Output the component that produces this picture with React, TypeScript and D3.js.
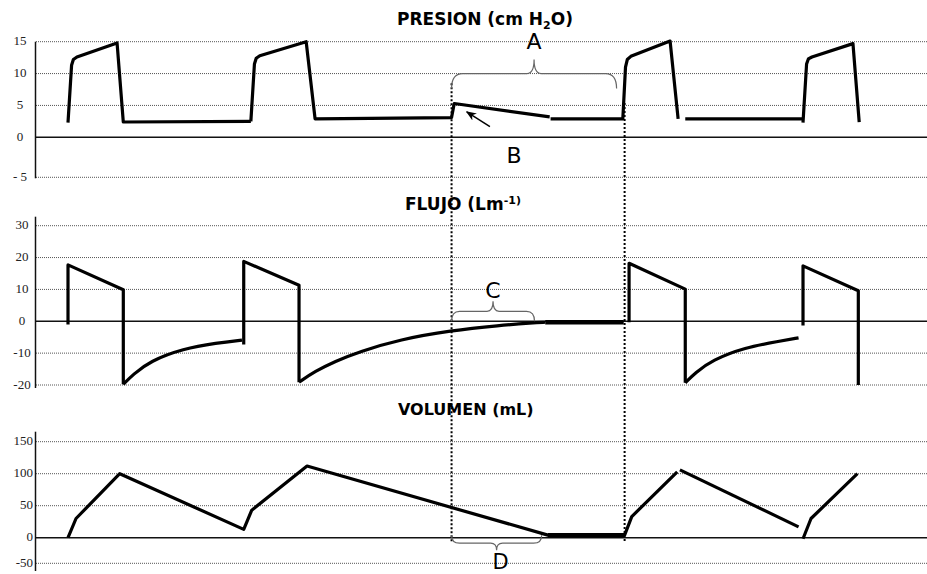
import * as d3 from 'd3';

type Pt = [number, number];

// time in seconds along the sweep
const T_DOMAIN = [0, 10];

const PRESSURE_TICKS = [15, 10, 5, -5];
const PRESSURE_LABELS = ['15', '10', '5', '0', '- 5'];
const PRESSURE_LABEL_VALUES = [15, 10, 5, 0, -5];
const FLOW_TICKS = [30, 20, 10, -10, -20];
const FLOW_LABELS = ['30', '20', '10', '0', '-10', '-20'];
const FLOW_LABEL_VALUES = [30, 20, 10, 0, -10, -20];
const VOLUME_TICKS = [150, 100, 50, -50];
const VOLUME_LABELS = ['150', '100', '50', '0', '-50'];
const VOLUME_LABEL_VALUES = [150, 100, 50, 0, -50];

const pressureSegments: Pt[][] = [
  [[0.37, 2.3], [0.41, 11.3], [0.43, 12.2], [0.47, 12.6], [0.92, 14.8], [0.99, 2.4], [2.42, 2.5]],
  [[2.42, 2.5], [2.46, 11.5], [2.48, 12.4], [2.52, 12.8], [3.04, 15.0], [3.14, 2.9], [4.67, 3.1], [4.7, 5.3], [5.77, 3.2]],
  [[5.78, 2.9], [6.59, 2.9], [6.62, 11.0], [6.64, 12.2], [6.68, 12.7], [7.12, 15.1], [7.21, 2.9]],
  [[7.29, 2.9], [8.61, 2.9]],
  [[8.61, 2.3], [8.65, 11.5], [8.67, 12.3], [8.71, 12.6], [9.17, 14.7], [9.24, 2.4]],
];

const flowSegments: Pt[][] = [
  [[0.37, -1.0], [0.37, 17.7], [0.99, 9.9], [0.99, -19.8]],
  [[2.34, -7.3], [2.34, 18.8], [2.96, 11.3], [2.96, -19.1]],
  [[6.66, -0.3], [6.66, 18.2], [7.29, 10.1], [7.29, -19.3]],
  [[8.61, -1.3], [8.61, 17.4], [9.23, 9.6], [9.23, -20]],
];

const flowDecays: Pt[][] = [
  [[0.99, -19.8], [1.1, -16.7], [1.29, -12.5], [1.66, -8.6], [2.04, -6.8], [2.32, -5.9]],
  [[2.96, -19.1], [3.14, -15.7], [3.36, -12.6], [3.64, -9.5], [4.09, -5.7], [4.66, -2.9], [5.21, -1.3], [5.58, -0.5], [5.72, -0.3]],
  [[7.29, -19.3], [7.4, -16.2], [7.59, -12.2], [7.96, -8.2], [8.34, -6.3], [8.56, -5.2]],
];

const flowPause: Pt[] = [[5.72, -0.3], [6.6, -0.3]];

const volumeSegments: Pt[][] = [
  [[0.37, 0], [0.46, 30], [0.95, 100], [2.34, 13], [2.43, 43], [3.05, 112], [5.75, 4], [6.61, 4], [6.69, 33], [7.2, 103]],
  [[7.23, 106], [8.56, 17]],
  [[8.61, -2], [8.7, 30], [9.22, 100]],
];

const volumePause: Pt[] = [[5.75, 4], [6.61, 4]];

// annotations (time / value units)
const PAUSE_START = 4.67;
const PAUSE_END = 6.61;
const braceA = { from: 4.67, to: 6.52, value: 10 };
const braceC = { from: 4.67, to: 5.6, value: 0 };
const braceD = { from: 4.67, to: 5.68, value: 4 };
const arrowB = { from: [5.1, 1.66] as Pt, to: [4.84, 4.0] as Pt };
const labelB = [5.37, -3.2] as Pt;

const W = 927;
const H = 574;

const x = d3.scaleLinear().domain(T_DOMAIN).range([35, 927]);
const yP = d3.scaleLinear().domain([-5, 0, 15]).range([177.3, 137.3, 41.7]);
const yF = d3.scaleLinear().domain([-20, 30]).range([385, 225.7]);
const yV = d3.scaleLinear().domain([-50, 0, 150]).range([563.3, 537.7, 441.7]);

const GRID_X0 = 36;

const bracePath = (x0: number, x1: number, yEnd: number, yBar: number, yTip: number, r: number, rt: number) => {
  const xm = (x0 + x1) / 2;
  return `M${x0},${yEnd} Q${x0},${yBar} ${x0 + r},${yBar} L${xm - rt},${yBar} Q${xm},${yBar} ${xm},${yTip} ` +
    `Q${xm},${yBar} ${xm + rt},${yBar} L${x1 - r},${yBar} Q${x1},${yBar} ${x1},${yEnd}`;
};

const Panel = ({ y, ticks, labelValues, labels, axisTop, axisBottom, labelX, anchor }: {
  y: d3.ScaleLinear<number, number>;
  ticks: number[];
  labelValues: number[];
  labels: string[];
  axisTop: number;
  axisBottom: number;
  labelX: number;
  anchor: 'start' | 'middle' | 'end';
}) => (
  <g>
    {ticks.map((t) => (
      <line key={t} x1={GRID_X0} x2={W} y1={y(t)} y2={y(t)} stroke="#555" strokeWidth={1} strokeDasharray="1,1" />
    ))}
    <line x1={GRID_X0} x2={W} y1={y(0)} y2={y(0)} stroke="#111" strokeWidth={1.5} />
    <line x1={35.5} x2={35.5} y1={axisTop} y2={axisBottom} stroke="#111" strokeWidth={1.5} />
    {labels.map((l, i) => (
      <text key={l} x={labelX} y={y(labelValues[i]) + 3.5} textAnchor={anchor}
        fontFamily="'Liberation Serif', 'Times New Roman', serif" fontSize={13} fill="#222">{l}</text>
    ))}
  </g>
);

export default function App() {
  const lineP = d3.line<Pt>().x((d) => x(d[0])).y((d) => yP(d[1]));
  const lineF = d3.line<Pt>().x((d) => x(d[0])).y((d) => yF(d[1]));
  const curveF = d3.line<Pt>().x((d) => x(d[0])).y((d) => yF(d[1])).curve(d3.curveBasis);
  const lineV = d3.line<Pt>().x((d) => x(d[0])).y((d) => yV(d[1]));

  const trace = { fill: 'none', stroke: '#000', strokeWidth: 3.2, strokeLinejoin: 'round' as const };
  const titleFont = "'DejaVu Sans', Verdana, sans-serif";
  const letterFont = "'DejaVu Sans', Verdana, sans-serif";

  const aX0 = x(braceA.from), aX1 = x(braceA.to), aBar = yP(braceA.value);
  const cX0 = x(braceC.from), cX1 = x(braceC.to), cEnd = yF(braceC.value);
  const dX0 = x(braceD.from), dX1 = x(braceD.to), dEnd = yV(braceD.value);

  return (
    <svg width={W} height={H} style={{ position: 'absolute', left: 0, top: 0, background: '#fff' }}
      role="img" aria-label="Presion, flujo y volumen en ventilacion mecanica">
      <defs>
        <marker id="arrow" viewBox="0 0 10 10" refX={9} refY={5} markerWidth={7} markerHeight={7} orient="auto">
          <path d="M0,1 L10,5 L0,9 L3,5 z" fill="#000" />
        </marker>
      </defs>
      <rect width={W} height={H} fill="#fff" />

      <Panel y={yP} ticks={PRESSURE_TICKS} labelValues={PRESSURE_LABEL_VALUES} labels={PRESSURE_LABELS}
        axisTop={41.7} axisBottom={178.3} labelX={20} anchor="middle" />
      <Panel y={yF} ticks={FLOW_TICKS} labelValues={FLOW_LABEL_VALUES} labels={FLOW_LABELS}
        axisTop={216.7} axisBottom={388} labelX={22} anchor="middle" />
      <Panel y={yV} ticks={VOLUME_TICKS} labelValues={VOLUME_LABEL_VALUES} labels={VOLUME_LABELS}
        axisTop={431.7} axisBottom={571} labelX={33} anchor="end" />

      {/* titles */}
      <text x={397} y={25} fontFamily={titleFont} fontWeight="bold" fontSize={17} fill="#000">
        PRESION (cm H<tspan fontSize={11} dy={4}>2</tspan><tspan dy={-4}>O)</tspan>
      </text>
      <text x={405} y={210} fontFamily={titleFont} fontWeight="bold" fontSize={17} fill="#000">
        FLUJO (Lm<tspan fontSize={11} dy={-6}>-1)</tspan>
      </text>
      <text x={398} y={415} fontFamily={titleFont} fontWeight="bold" fontSize={16} fill="#000">
        VOLUMEN (mL)
      </text>

      {/* pause markers */}
      <line x1={x(PAUSE_START)} x2={x(PAUSE_START)} y1={yP(8.5)} y2={yV(-8)} stroke="#000" strokeWidth={2} strokeDasharray="2,2" />
      <line x1={x(PAUSE_END)} x2={x(PAUSE_END)} y1={yP(5.4)} y2={yV(-8)} stroke="#000" strokeWidth={2} strokeDasharray="2,2" />

      {/* traces */}
      {pressureSegments.map((s, i) => <path key={`p${i}`} d={lineP(s) ?? ''} {...trace} />)}
      {flowSegments.map((s, i) => <path key={`f${i}`} d={lineF(s) ?? ''} {...trace} />)}
      {flowDecays.map((s, i) => <path key={`fc${i}`} d={curveF(s) ?? ''} {...trace} />)}
      <path d={lineF(flowPause) ?? ''} {...trace} strokeWidth={4.5} />
      {volumeSegments.map((s, i) => <path key={`v${i}`} d={lineV(s) ?? ''} {...trace} />)}
      <path d={lineV(volumePause) ?? ''} {...trace} strokeWidth={4.5} />

      {/* braces and letters */}
      <path d={bracePath(aX0, aX1, aBar + 15, aBar, aBar - 14, 11, 7)} fill="none" stroke="#666" strokeWidth={1.2} />
      <text x={(aX0 + aX1) / 2} y={aBar - 25} textAnchor="middle" fontFamily={letterFont} fontSize={22} fill="#000">A</text>

      <path d={bracePath(cX0, cX1, cEnd, cEnd - 10, cEnd - 20, 8, 6)} fill="none" stroke="#666" strokeWidth={1.2} />
      <text x={(cX0 + cX1) / 2} y={cEnd - 23.5} textAnchor="middle" fontFamily={letterFont} fontSize={22} fill="#000">C</text>

      <path d={bracePath(dX0, dX1, dEnd, dEnd + 8, dEnd + 15, 8, 6)} fill="none" stroke="#666" strokeWidth={1.2} />
      <text x={(dX0 + dX1) / 2 + 4} y={dEnd + 34} textAnchor="middle" fontFamily={letterFont} fontSize={21} fill="#000">D</text>

      <line x1={x(arrowB.from[0])} y1={yP(arrowB.from[1])} x2={x(arrowB.to[0])} y2={yP(arrowB.to[1])}
        stroke="#000" strokeWidth={1.5} markerEnd="url(#arrow)" />
      <text x={x(labelB[0])} y={yP(labelB[1])} textAnchor="middle" fontFamily={letterFont} fontSize={22} fill="#000">B</text>
    </svg>
  );
}
